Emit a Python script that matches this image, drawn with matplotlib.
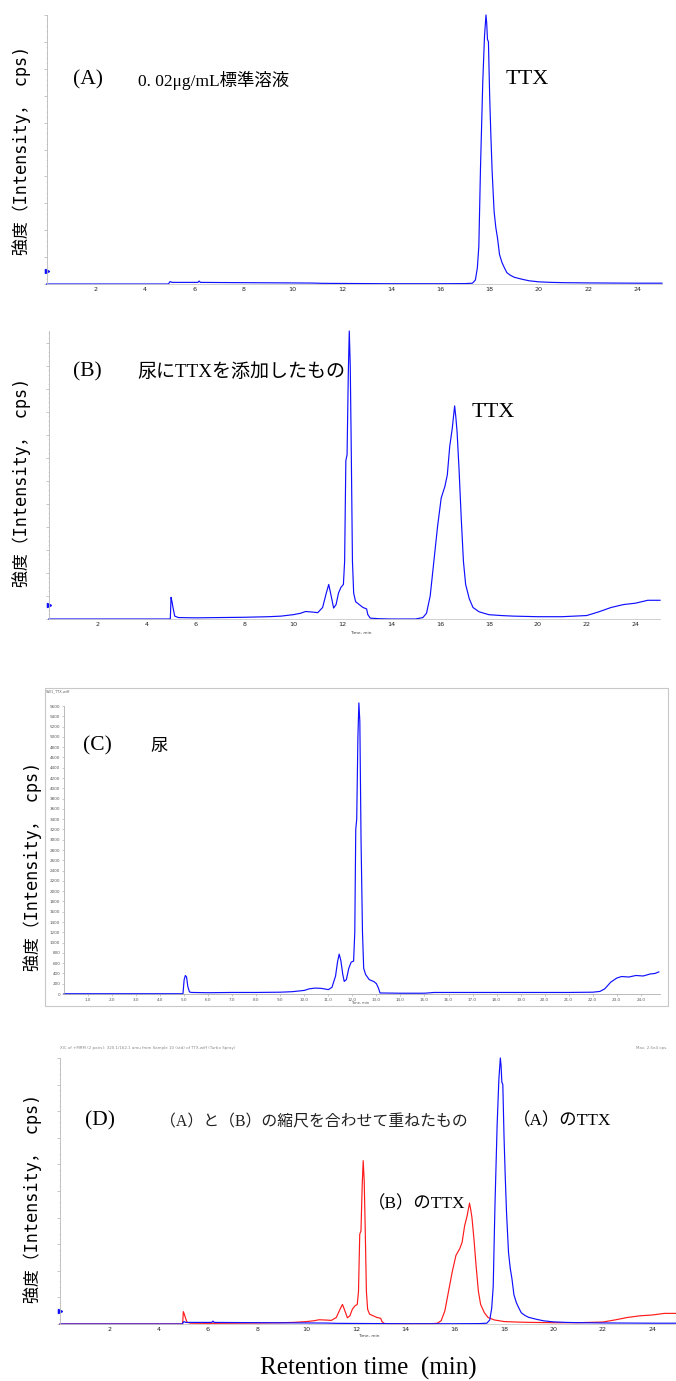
import matplotlib
matplotlib.use("Agg")
import matplotlib.pyplot as plt
from matplotlib.ticker import MultipleLocator, FixedLocator
from matplotlib.patches import Rectangle
import matplotlib.transforms as mtrans

# ---------------- data ----------------
# (A) 0.02 ug/mL standard : relative intensity (% of TTX peak)
A_time = [0, 4.95, 5.02, 5.1, 5.5, 6.15, 6.2, 6.25, 7, 8, 9, 10, 10.8, 11.2, 12, 13, 14, 15, 16,
          17.0, 17.3, 17.42, 17.5, 17.56, 17.63, 17.72, 17.79, 17.85, 17.88, 17.91, 17.95, 18.0,
          18.05, 18.1, 18.18, 18.25, 18.32, 18.4, 18.5, 18.6, 18.7, 18.85, 19.0, 19.3, 19.6,
          20.0, 20.5, 21, 22, 23, 24, 25]
A_int = [0, 0, 0.9, 0.6, 0.6, 0.6, 1.1, 0.6, 0.55, 0.5, 0.45, 0.4, 0.35, 0.25, 0.2, 0.15, 0.1, 0.1, 0.1,
         0.15, 0.3, 1.5, 6, 14, 44, 75, 92, 100, 97, 91, 90, 70,
         55, 42, 27, 21, 17, 11, 8, 6, 4.2, 3.2, 2.5, 1.8, 1.2,
         0.8, 0.6, 0.5, 0.4, 0.35, 0.3, 0.3]

# (B) urine spiked with TTX : relative intensity (% of 12.3 min peak)
B_time = [0, 4.97, 5.0, 5.04, 5.08, 5.15, 5.3, 6, 7, 8, 9, 9.5, 10.0, 10.3, 10.5, 10.8, 11.0,
          11.2, 11.35, 11.45, 11.55, 11.65, 11.75, 11.85, 11.95, 12.05, 12.1, 12.15, 12.2,
          12.25, 12.29, 12.33, 12.37, 12.42, 12.47, 12.55, 12.7, 12.85, 13.0, 13.05, 13.15,
          13.5, 14, 15, 15.3, 15.45, 15.6, 15.75, 15.9, 16.05, 16.2, 16.3, 16.4, 16.5, 16.6,
          16.65, 16.7, 16.78, 16.87, 16.96, 17.05, 17.2, 17.35, 17.6, 18, 18.5, 19, 20, 21,
          22, 22.5, 23, 23.5, 24, 24.5, 25]
B_int = [0, 0, 7.5, 6, 4, 1, 0.5, 0.4, 0.5, 0.6, 0.8, 1.0, 1.5, 2.0, 2.6, 2.4, 2.2,
         4, 9, 12, 8, 3.8, 5, 9, 11, 12, 20, 55, 57,
         85, 100, 88, 60, 20, 9, 6, 5, 4, 3.5, 1.5, 0.3,
         0.1, 0, 0, 0.5, 2, 8, 20, 32, 42, 46, 50, 60, 66, 74,
         70, 65, 52, 35, 20, 12, 7, 4, 2.5, 1.5, 1.2, 1.0, 0.8, 0.8,
         1.2, 2.5, 4, 5, 5.5, 6.5, 6.5]

# (C) urine : intensity in cps
C_time = [0, 4.95, 5.0, 5.05, 5.1, 5.15, 5.22, 5.3, 6, 7, 8, 9, 9.5, 10.0, 10.2, 10.45, 10.7,
          11.0, 11.15, 11.3, 11.38, 11.45, 11.52, 11.6, 11.66, 11.75, 11.85, 11.95, 12.05,
          12.1, 12.14, 12.18, 12.23, 12.27, 12.31, 12.36, 12.42, 12.47, 12.55, 12.7, 12.9,
          13.0, 13.08, 13.15, 14, 15, 15.4, 16, 17, 18, 19, 20, 21, 22, 22.3, 22.5, 22.75,
          23.0, 23.2, 23.5, 23.8, 24.1, 24.4, 24.6, 24.75]
C_int = [5, 5, 280, 360, 330, 150, 40, 30, 25, 30, 30, 35, 45, 70, 100, 115, 110,
         85, 130, 350, 620, 775, 650, 380, 245, 280, 500, 620, 640,
         1200, 3200, 3400, 5000, 5660, 5300, 3000, 1200, 500, 380, 280, 240,
         200, 120, 20, 15, 15, 30, 30, 30, 30, 30, 30, 30, 35, 50, 100, 230,
         310, 340, 330, 360, 350, 390, 400, 430]

# (D) overlay: (B) drawn on the scale of (A)
D_scale_B = 0.614

x_ticks = [2, 4, 6, 8, 10, 12, 14, 16, 18, 20, 22, 24]
C_xticks = list(range(1, 25))
C_yticks = list(range(0, 5601, 200))

# ---------------- figure ----------------
W, H = 676, 1381
fig = plt.figure(figsize=(W / 100, H / 100), dpi=100)

SERIF = ['Liberation Serif', 'Noto Sans CJK JP']
YLAB = ['DejaVu Sans Mono', 'Noto Sans CJK JP']
BLUE = '#1010ff'
RED = '#ff1a1a'


def axes_px(l, t, r, b):
    return fig.add_axes([l / W, 1 - b / H, (r - l) / W, (b - t) / H])


def text_px(x, y, s, **kw):
    kw.setdefault('va', 'center')
    kw.setdefault('ha', 'left')
    return fig.text(x / W, 1 - y / H, s, **kw)


def style_trace_axes(ax, xmax, ymax, ymajor):
    ax.set_xlim(0, xmax)
    ax.set_ylim(0, ymax)
    for s in ('top', 'right'):
        ax.spines[s].set_visible(False)
    ax.spines['left'].set_color('#b8b8b8')
    ax.spines['left'].set_linewidth(0.6)
    ax.spines['bottom'].set_color('#c8c8c8')
    ax.spines['bottom'].set_linewidth(0.6)
    ax.xaxis.set_major_locator(FixedLocator(x_ticks))
    ax.tick_params(axis='x', length=0, pad=2.2, labelsize=4.6, labelcolor='#222222')
    ax.yaxis.set_major_locator(MultipleLocator(ymajor))
    ax.yaxis.set_minor_locator(MultipleLocator(ymajor / 5))
    ax.tick_params(axis='y', which='major', length=2.2, width=0.5, color='#b0b0b0', labelleft=False)
    ax.tick_params(axis='y', which='minor', length=1.0, width=0.4, color='#c8c8c8')
    ax.patch.set_alpha(0)


def ylabel(x, y):
    text_px(x, y, '強度（Intensity， cps)', rotation=90, ha='center', va='center',
            fontsize=12.2, family=YLAB, color='black')


def axis_marker(ax, yval, color):
    tr = mtrans.blended_transform_factory(ax.transAxes, ax.transData)
    ax.plot([0.0], [yval], marker='>', ms=3, color=color, transform=tr, clip_on=False, lw=0)


# ---- (A) ----
axA = axes_px(46.5, 15, 662, 284)
style_trace_axes(axA, 25, 100, 10)
axA.plot(A_time, A_int, color=BLUE, lw=0.85, clip_on=False)
axis_marker(axA, 5, BLUE)
ylabel(22, 150)
text_px(73, 80, '(A)', fontsize=15.5, family=SERIF)
text_px(138, 81, '0. 02μg/mL標準溶液', fontsize=12.5, family=SERIF)
text_px(506, 80, 'TTX', fontsize=16, family=SERIF)

# ---- (B) ----
axB = axes_px(48.8, 331, 660, 619)
style_trace_axes(axB, 25, 100, 8)
axB.plot(B_time, B_int, color=BLUE, lw=0.85, clip_on=False)
axis_marker(axB, 5, BLUE)
ylabel(22, 482)
text_px(73, 372, '(B)', fontsize=15.5, family=SERIF)
text_px(137, 372, '尿にTTXを添加したもの', fontsize=13.7, family=SERIF)
text_px(472, 413, 'TTX', fontsize=16, family=SERIF)
text_px(361, 633, 'Time, min', fontsize=3.2, color='#444444', ha='center')

# ---- (C) ----
fig.patches.append(Rectangle((45 / W, 1 - 1006 / H), (668 - 45) / W, (1006 - 688) / H,
                             transform=fig.transFigure, fill=False, edgecolor='#c8c8c8',
                             lw=0.8, zorder=0))
axC = axes_px(64, 706, 660, 994)
axC.set_xlim(0, 24.8)
axC.set_ylim(0, 5600)
for s in ('top', 'right'):
    axC.spines[s].set_visible(False)
for s in ('left', 'bottom'):
    axC.spines[s].set_color('#a0a0a0')
    axC.spines[s].set_linewidth(0.5)
axC.xaxis.set_major_locator(FixedLocator(C_xticks))
axC.set_xticklabels([f'{v:.1f}' for v in C_xticks])
axC.yaxis.set_major_locator(FixedLocator(C_yticks))
axC.set_yticklabels([str(v) for v in C_yticks])
axC.tick_params(axis='both', length=1.5, width=0.4, color='#a0a0a0', labelsize=3.0,
                labelcolor='#555555', pad=1.2)
axC.patch.set_alpha(0)
axC.plot(C_time, C_int, color=BLUE, lw=0.85, clip_on=False)
ylabel(33, 866)
text_px(83, 746, '(C)', fontsize=15.5, family=SERIF)
text_px(150, 747, '尿', fontsize=12.5, family=SERIF)
text_px(46, 691, 'SW1_TTX.wiff', fontsize=2.6, color='#666666')
text_px(360, 1003.5, 'Time, min', fontsize=2.6, color='#555555', ha='center')

# ---- (D) ----
axD = axes_px(60, 1058, 676, 1324)
style_trace_axes(axD, 24.97, 100, 10)
axD.plot(B_time, [v * D_scale_B for v in B_int], color=RED, lw=0.85, clip_on=False)
axD.plot(A_time, A_int, color=BLUE, lw=0.85, clip_on=False)
axis_marker(axD, 5, BLUE)
ylabel(33, 1198)
text_px(60, 1048, 'XIC of +MRM (2 pairs): 320.1/162.1 amu from Sample 10 (std) of TTX.wiff (Turbo Spray)',
        fontsize=2.9, color='#888888')
text_px(636, 1048, 'Max. 2.5e4 cps.', fontsize=2.9, color='#888888')
text_px(85, 1121, '(D)', fontsize=15.5, family=SERIF)
text_px(160, 1122, '（A）と（B）の縮尺を合わせて重ねたもの', fontsize=11.4, family=SERIF, color='#222222')
text_px(513, 1121, '（A）のTTX', fontsize=12.5, family=SERIF)
text_px(368, 1204, '（B）のTTX', fontsize=12.5, family=SERIF)
text_px(369, 1336, 'Time, min', fontsize=3.2, color='#444444', ha='center')

text_px(368, 1368, 'Retention time  (min)', fontsize=18, family=SERIF, ha='center')

fig.savefig('out.png', dpi=100)
